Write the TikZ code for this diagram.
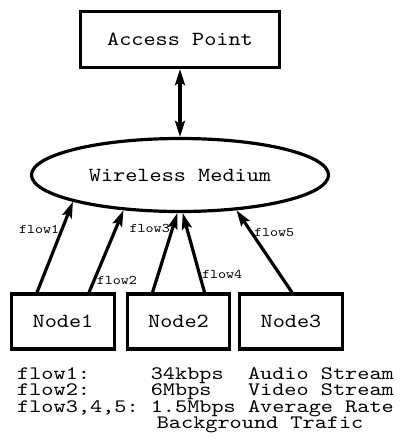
\documentclass[tikz,border=0pt]{standalone}
\usepackage{fontspec}
\setmonofont{lmmono10-regular.otf}[FakeStretch=1.157]
\newfontfamily\legendfont{lmmono10-regular.otf}[FakeStretch=1.218]
\usetikzlibrary{arrows.meta,shapes.geometric}

\begin{document}
\begin{tikzpicture}[x=1pt,y=-1pt,
        >={Stealth[length=16pt,width=10pt,inset=3pt]},
        bigtext/.style={font=\ttfamily\fontsize{20}{15}\selectfont},
        box/.style={draw, bigtext, line width=3.2pt, minimum width=#1, minimum height=55pt, inner sep=0pt},
        medium/.style={draw, ellipse, bigtext, line width=3.2pt, minimum width=297pt, minimum height=73pt, inner sep=0pt},
        flowlbl/.style={font=\ttfamily\fontsize{13.2}{15}\selectfont, inner sep=1pt},
        flow/.style={line width=3.2pt, ->}]
        \useasboundingbox (0,0) rectangle (402,446);

        \node[box=199pt, minimum height=56pt] (ap) at (180,39.5) {Access Point};
        \node[medium] (wm) at (180,175) {Wireless Medium};
        \node[box=103pt] (n1) at (63,321.5) {Node1};
        \node[box=102pt] (n2) at (178.5,321.5) {Node2};
        \node[box=103pt] (n3) at (291,321.5) {Node3};

        \draw[line width=3.2pt, <->] (ap) -- (wm);

        \draw[flow] ([xshift=-26pt]n1.north) -- node[flowlbl, pos=.69, anchor=east] {flow1} (wm.194.7);
        \draw[flow] ([xshift=26pt]n1.north) -- node[flowlbl, pos=.15, anchor=west] {flow2} (wm.212.5);
        \draw[flow] ([xshift=-26pt]n2.north) -- node[flowlbl, pos=.8, anchor=east] {flow3} (wm.266);
        \draw[flow] ([xshift=26pt]n2.north) -- node[flowlbl, pos=.23, anchor=west] {flow4} (wm.274);
        \draw[flow] ([xshift=1pt]n3.north) -- node[flowlbl, pos=.73, anchor=west] {flow5} (wm.328.9);

        \node[font=\legendfont\fontsize{19}{15.3}\selectfont, anchor=north west, inner sep=0pt] (legend) at (17,367.5) {%
            \begin{tabular}{@{}l@{\ }l@{\ }l@{}}
                flow1:     & 34kbps  & Audio Stream \\
                flow2:     & 6Mbps   & Video Stream \\
                flow3,4,5: & 1.5Mbps & Average Rate \\
                           & \multicolumn{2}{l}{Background Trafic}
            \end{tabular}};
    \end{tikzpicture}
\end{document}
